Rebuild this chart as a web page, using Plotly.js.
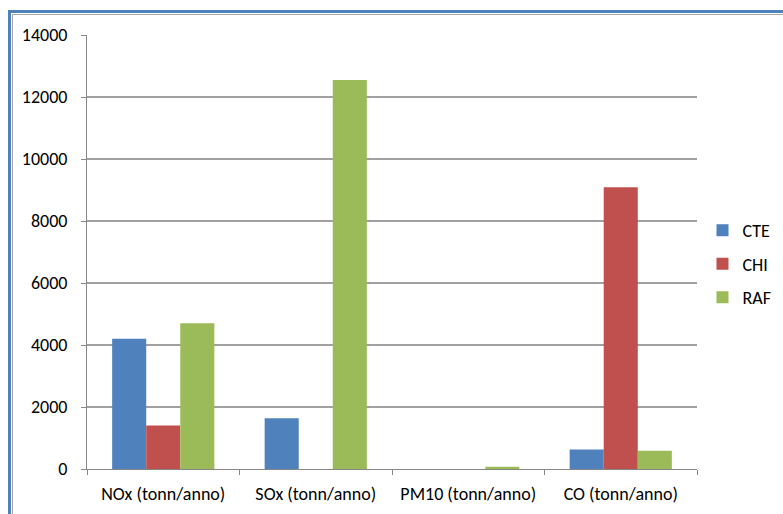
<!DOCTYPE html>
<html>
<head>
<meta charset="utf-8">
<script src="https://cdn.plot.ly/plotly-3.0.1.min.js"></script>
<style>
  html, body { margin: 0; padding: 0; background: #fff; overflow: hidden; }
  #chart { position: absolute; left: 0; top: 0; width: 783px; height: 514px; }
  #frame { position: absolute; left: 8px; top: 10px; width: 800px; height: 540px;
           border-left: 3px solid #4f81bd; border-top: 3px solid #4f81bd; pointer-events: none; }
  #frame2 { position: absolute; left: 12px; top: 14px; width: 800px; height: 540px;
           border-left: 1px solid #a6a6a6; border-top: 1px solid #a6a6a6; pointer-events: none; }
</style>
</head>
<body>
<div id="chart"></div>
<div id="frame"></div>
<div id="frame2"></div>
<script>
const categories = ["NOx (tonn/anno)", "SOx (tonn/anno)", "PM10 (tonn/anno)", "CO (tonn/anno)"];
const seriesNames = ["CTE", "CHI", "RAF"];
const cteValues = [4200, 1640, 0, 630];
const chiValues = [1400, 0, 0, 9090];
const rafValues = [4700, 12550, 70, 590];
const yTicks = [0, 2000, 4000, 6000, 8000, 10000, 12000, 14000];
const colors = ["#4f81bd", "#c0504d", "#9bbb59"];

const values = [cteValues, chiValues, rafValues];
const traces = seriesNames.map((name, i) => ({
  type: "bar",
  name: name,
  x: categories,
  y: values[i],
  legendgroup: name,
  marker: { color: colors[i], line: { width: 0 } },
  hoverinfo: "x+y+name"
}));

const font = { family: "Carlito, Lato, 'Liberation Sans', sans-serif", size: 18, color: "#000" };

const layout = {
  width: 783,
  height: 514,
  margin: { l: 87, r: 86, t: 35, b: 45, autoexpand: false },
  paper_bgcolor: "#ffffff",
  plot_bgcolor: "#ffffff",
  font: font,
  barmode: "group",
  bargap: 0.33,
  bargroupgap: 0,
  showlegend: true,
  legend: {
    x: 1.009, xanchor: "left",
    y: 0.472, yanchor: "middle",
    font: { family: font.family, size: 18, color: "#000" },
    traceorder: "grouped",
    tracegroupgap: 7,
    itemwidth: 30,
    bgcolor: "rgba(0,0,0,0)"
  },
  xaxis: {
    type: "category",
    showline: true,
    linecolor: "#868686",
    linewidth: 1,
    ticks: "outside",
    tickson: "boundaries",
    ticklen: 5,
    tickcolor: "#868686",
    showgrid: false,
    tickfont: font,
    ticklabelstandoff: 8,
    automargin: false,
    fixedrange: true
  },
  yaxis: {
    range: [0, 14000],
    tickvals: yTicks,
    ticktext: yTicks.map(String),
    showline: true,
    linecolor: "#868686",
    linewidth: 1,
    ticks: "outside",
    ticklen: 5,
    tickcolor: "#868686",
    showgrid: true,
    gridcolor: "#a0a0a0",
    gridwidth: 1.3,
    zeroline: false,
    tickfont: font,
    ticklabelstandoff: 10,
    automargin: false,
    fixedrange: true
  }
};

Plotly.newPlot("chart", traces, layout, { displayModeBar: false, staticPlot: true });
</script>
</body>
</html>
